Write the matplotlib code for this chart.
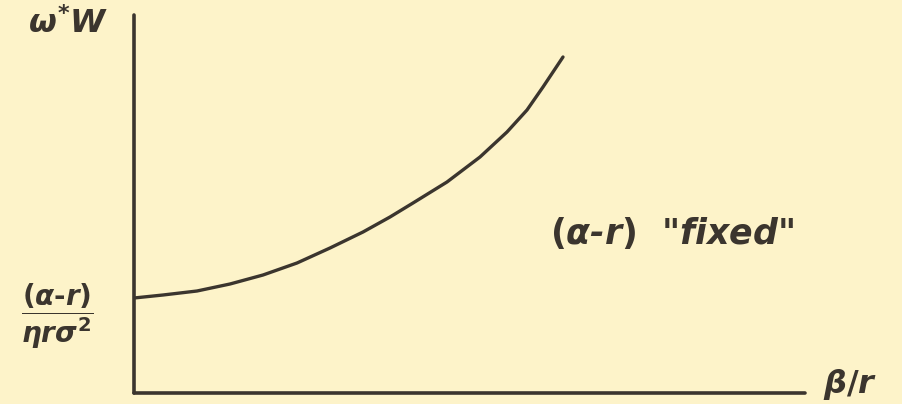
import numpy as np
import matplotlib.pyplot as plt

# hand-drawn sketch: w*W vs beta/r, (alpha - r) fixed
# units are arbitrary (origin at the axes corner)
beta_over_r = [0.0, 0.29, 0.63, 0.96, 1.29, 1.63, 1.96, 2.29, 2.56, 2.79,
               3.13, 3.46, 3.73, 3.93, 4.09, 4.29]
wW = [0.95, 0.98, 1.02, 1.09, 1.18, 1.30, 1.45, 1.61, 1.76, 1.90,
      2.11, 2.36, 2.61, 2.83, 3.06, 3.36]

bg = '#fdf3c9'
ink = '#3b352e'

# thick "pen" look for the math labels
plt.rcParams['mathtext.fontset'] = 'custom'
plt.rcParams['mathtext.rm'] = 'DejaVu Sans:bold'
plt.rcParams['mathtext.it'] = 'DejaVu Sans:italic:bold'
plt.rcParams['mathtext.bf'] = 'DejaVu Sans:bold'

fig = plt.figure(figsize=(9.02, 4.04), dpi=100, facecolor=bg)

# axes box placed so its left/bottom spines sit where the drawn axes are
ax = fig.add_axes([134/902, (404-393)/404, (805-134)/902, (393-15)/404])
ax.set_facecolor(bg)
ax.plot(beta_over_r, wW, color=ink, lw=2.4, solid_capstyle='round',
        solid_joinstyle='round')
ax.set_xlim(0, 6.71)
ax.set_ylim(0, 3.78)

for s in ['top', 'right']:
    ax.spines[s].set_visible(False)
for s in ['left', 'bottom']:
    ax.spines[s].set_color(ink)
    ax.spines[s].set_linewidth(2.6)
    ax.spines[s].set_capstyle('round')
ax.set_xticks([])
ax.set_yticks([])

# labels
fig.text(68/902, 1-24/404, r'$\omega^{*}W$', color=ink, fontsize=23,
         ha='center', va='center')
fig.text(57/902, 1-316/404, r'$\dfrac{(\alpha\text{-}r)}{\eta r \sigma^{2}}$',
         color=ink, fontsize=20, ha='center', va='center')
fig.text(672/902, 1-233/404, r'$(\alpha$-$r)$  "fixed"', color=ink,
         fontsize=25, ha='center', va='center', style='italic',
         fontweight='bold')
fig.text(850/902, 1-384/404, r'$\beta/r$', color=ink, fontsize=23,
         ha='center', va='center')

fig.savefig('out.png', dpi=100, facecolor=bg)
